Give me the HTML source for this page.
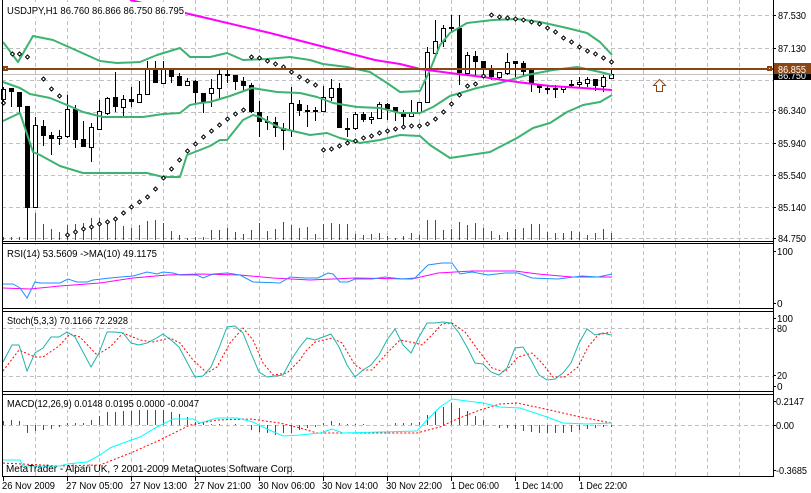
<!DOCTYPE html>
<html><head><meta charset="utf-8"><style>
html,body{margin:0;padding:0;background:#fff;width:811px;height:493px;overflow:hidden}
svg{display:block}
text{font-family:"Liberation Sans",Arial,sans-serif;font-size:10px;fill:#000}
</style></head><body>
<svg width="811" height="493" viewBox="0 0 811 493" xmlns="http://www.w3.org/2000/svg">
<defs>
<path id="v" d="M0.5 0V241M0.5 244V308M0.5 312V391M0.5 395V476"/>
</defs>
<rect width="811" height="493" fill="#fff"/>
<!-- vertical grid -->
<g stroke="#c0c0c0" stroke-dasharray="4,3" fill="none" shape-rendering="crispEdges">
<use href="#v" x="35"/><use href="#v" x="67"/><use href="#v" x="99"/><use href="#v" x="131"/><use href="#v" x="163"/><use href="#v" x="195"/><use href="#v" x="227"/><use href="#v" x="259"/><use href="#v" x="291"/><use href="#v" x="323"/><use href="#v" x="355"/><use href="#v" x="387"/><use href="#v" x="419"/><use href="#v" x="451"/><use href="#v" x="483"/><use href="#v" x="515"/><use href="#v" x="547"/><use href="#v" x="579"/><use href="#v" x="611"/><use href="#v" x="643"/><use href="#v" x="675"/><use href="#v" x="707"/><use href="#v" x="739"/>
<path d="M2 15.5H773M2 48.5H773M2 80.5H773M2 112.5H773M2 143.5H773M2 175.5H773M2 207.5H773M2 238.5H773M2 328.5H773M2 376.5H773M2 425.5H773"/>
</g>
<!-- volumes -->
<path stroke="#008000" fill="none" shape-rendering="crispEdges" d="M3.5 237V240M11.5 237V240M19.5 237V240M27.5 233V240M35.5 213V240M43.5 224V240M51.5 229V240M59.5 232V240M67.5 225V240M75.5 224V240M83.5 223V240M91.5 218V240M99.5 218V240M107.5 220V240M115.5 219V240M123.5 226V240M131.5 228V240M139.5 225V240M147.5 221V240M155.5 220V240M163.5 223V240M171.5 231V240M179.5 235V240M187.5 238V240M195.5 237V240M203.5 237V240M211.5 230V240M219.5 230V240M227.5 228V240M235.5 232V240M243.5 234V240M251.5 230V240M259.5 223V240M267.5 231V240M275.5 229V240M283.5 222V240M291.5 225V240M299.5 228V240M307.5 227V240M315.5 234V240M323.5 224V240M331.5 223V240M339.5 224V240M347.5 224V240M355.5 234V240M363.5 235V240M371.5 234V240M379.5 233V240M387.5 236V240M395.5 238V240M403.5 236V240M411.5 233V240M419.5 235V240M427.5 220V240M435.5 220V240M443.5 230V240M451.5 229V240M459.5 222V240M467.5 225V240M475.5 223V240M483.5 228V240M491.5 231V240M499.5 235V240M507.5 232V240M515.5 229V240M523.5 228V240M531.5 224V240M539.5 224V240M547.5 232V240M555.5 233V240M563.5 233V240M571.5 231V240M579.5 232V240M587.5 235V240M595.5 233V240M603.5 229V240M611.5 233V240"/>
<!-- gray bid line -->
<rect x="2" y="74" width="771" height="1" fill="#c0c0c0"/>
<!-- candles: wicks -->
<path stroke="#000" fill="none" shape-rendering="crispEdges" d="M3.5 87V105M11.5 88V107M19.5 92V114M27.5 106V240M35.5 117V207M43.5 120V146M51.5 132V155M59.5 130V145M67.5 95V138M75.5 105V148M83.5 121V147M91.5 123V162M99.5 100V130M107.5 97V115M115.5 72V112M123.5 95V117M131.5 87V107M139.5 81V103M147.5 61V94M155.5 61V83M163.5 61V83M171.5 68V83M179.5 73V86M187.5 78V85M195.5 80V103M203.5 93V113M211.5 79V107M219.5 70V100M227.5 70V83M235.5 75V90M243.5 77V90M251.5 83V113M259.5 101V137M267.5 116V130M275.5 117V137M283.5 123V150M291.5 87V137M299.5 100V116M307.5 105V127M315.5 107V121M323.5 86V112M331.5 79V101M339.5 83V128M347.5 118V137M355.5 112V130M363.5 112V122M371.5 112V124M379.5 102V119M387.5 103V120M395.5 107V121M403.5 110V127M411.5 100V116M419.5 102V112M427.5 47V102M435.5 20V53M443.5 25V47M451.5 15V33M459.5 15V85M467.5 52V75M475.5 51V75M483.5 61V77M491.5 65V80M499.5 72V80M507.5 53V75M515.5 61V77M523.5 61V75M531.5 69V92M539.5 84V93M547.5 85V94M555.5 85V98M563.5 86V93M571.5 80V88M579.5 77V88M587.5 77V87M595.5 79V91M603.5 75V92M611.5 68V78"/>
<!-- black bodies -->
<path fill="#000" shape-rendering="crispEdges" d="M9 88h5v4h-5zM17 92h5v15h-5zM25 106h5v102h-5zM41 126h5v10h-5zM49 135h5v4h-5zM73 109h5v31h-5zM81 139h5v8h-5zM113 97h5v10h-5zM129 99h5v3h-5zM153 68h5v15h-5zM169 68h5v9h-5zM177 76h5v10h-5zM193 81h5v12h-5zM201 93h5v9h-5zM225 74h5v2h-5zM233 75h5v7h-5zM241 81h5v5h-5zM249 85h5v27h-5zM257 112h5v10h-5zM265 121h5v2h-5zM273 122h5v6h-5zM281 128h5v3h-5zM297 104h5v7h-5zM305 110h5v2h-5zM313 110h5v2h-5zM337 88h5v40h-5zM345 128h5v2h-5zM361 114h5v6h-5zM385 104h5v5h-5zM393 107h5v5h-5zM401 112h5v5h-5zM449 27h5v2h-5zM457 28h5v45h-5zM473 56h5v6h-5zM481 61h5v7h-5zM489 68h5v9h-5zM513 61h5v3h-5zM521 63h5v9h-5zM529 69h5v15h-5zM537 84h5v4h-5zM545 88h5v2h-5zM553 88h5v2h-5zM569 84h5v2h-5zM593 79h5v7h-5z"/>
<!-- white bodies -->
<path fill="#fff" stroke="#000" shape-rendering="crispEdges" d="M1.5 89.5h4v10h-4zM33.5 125.5h4v82h-4zM57.5 136.5h4v2h-4zM65.5 109.5h4v27h-4zM89.5 127.5h4v20h-4zM97.5 111.5h4v18h-4zM105.5 98.5h4v15h-4zM121.5 99.5h4v8h-4zM137.5 94.5h4v8h-4zM145.5 68.5h4v26h-4zM161.5 68.5h4v15h-4zM185.5 81.5h4v4h-4zM209.5 88.5h4v5h-4zM217.5 74.5h4v14h-4zM289.5 103.5h4v27h-4zM321.5 97.5h4v14h-4zM329.5 88.5h4v9h-4zM353.5 114.5h4v14h-4zM369.5 117.5h4v2h-4zM377.5 104.5h4v14h-4zM409.5 112.5h4v4h-4zM417.5 102.5h4v10h-4zM425.5 52.5h4v50h-4zM433.5 41.5h4v12h-4zM441.5 28.5h4v13h-4zM465.5 55.5h4v18h-4zM497.5 72.5h4v5h-4zM505.5 62.5h4v11h-4zM561.5 86.5h4v3h-4zM577.5 82.5h4v2h-4zM585.5 79.5h4v4h-4zM601.5 77.5h4v9h-4zM609.5 74.5h4v4h-4z"/>
<!-- Bollinger bands -->
<g fill="none" stroke="#3cb371" stroke-width="2" stroke-linejoin="round">
<polyline points="3,42 18,62 33,36 53,40 80,52 100,61 117,63 140,62 157,55 180,48 190,57 210,57 227,53 243,60 267,59 290,57 310,60 323,64 347,67 370,72 387,83 400,92 420,91 430,70 440,45 450,33 467,23 493,20 517,19 540,22 567,28 587,33 600,42 612,55"/>
<polyline points="3,82 20,88 30,94 50,98 67,105 83,112 103,117 143,117 163,114 180,113 190,105 200,103 210,102 230,96 252,88 277,92 300,93 317,97 333,103 357,107 380,108 400,113 420,113 433,107 450,96 477,88 500,83 527,75 553,70 577,67 600,72 612,75"/>
<polyline points="3,121 20,113 33,152 40,155 60,166 83,173 127,173 147,173 163,177 180,177 187,155 200,150 210,146 220,140 227,140 243,120 253,115 260,117 280,128 310,135 327,133 340,138 360,143 380,140 400,135 420,136 430,145 450,158 490,152 517,138 533,128 550,123 567,112 583,105 600,102 612,95"/>
</g>
<!-- magenta MA -->
<polyline fill="none" stroke="#ff00ff" stroke-width="2" points="130,0 185,13 270,33 375,60 400,64 420,69 450,73 483,77 517,82 550,86 583,88 612,90"/>
<!-- Parabolic SAR -->
<path fill="#fff" stroke="#000" stroke-width="1" d="M3.5 101l2 2-2 2-2-2zM12.5 52l2 2-2 2-2-2zM19.5 52l2 2-2 2-2-2zM27.5 55l2 2-2 2-2-2zM43.5 77l2 2-2 2-2-2zM51.5 87l2 2-2 2-2-2zM59.5 94l2 2-2 2-2-2zM67.5 233l2 2-2 2-2-2zM75.5 230l2 2-2 2-2-2zM83.5 227l2 2-2 2-2-2zM91.5 225l2 2-2 2-2-2zM99.5 222l2 2-2 2-2-2zM107.5 220l2 2-2 2-2-2zM115.5 217l2 2-2 2-2-2zM123.5 211l2 2-2 2-2-2zM131.5 205l2 2-2 2-2-2zM139.5 200l2 2-2 2-2-2zM147.5 195l2 2-2 2-2-2zM155.5 187l2 2-2 2-2-2zM163.5 176l2 2-2 2-2-2zM171.5 167l2 2-2 2-2-2zM179.5 158l2 2-2 2-2-2zM187.5 149l2 2-2 2-2-2zM195.5 142l2 2-2 2-2-2zM203.5 135l2 2-2 2-2-2zM211.5 129l2 2-2 2-2-2zM219.5 123l2 2-2 2-2-2zM227.5 117l2 2-2 2-2-2zM235.5 112l2 2-2 2-2-2zM243.5 108l2 2-2 2-2-2zM251.5 55l2 2-2 2-2-2zM259.5 56l2 2-2 2-2-2zM267.5 59l2 2-2 2-2-2zM275.5 62l2 2-2 2-2-2zM283.5 65l2 2-2 2-2-2zM291.5 70l2 2-2 2-2-2zM299.5 75l2 2-2 2-2-2zM307.5 79l2 2-2 2-2-2zM315.5 83l2 2-2 2-2-2zM323.5 148l2 2-2 2-2-2zM331.5 147l2 2-2 2-2-2zM339.5 144l2 2-2 2-2-2zM347.5 141l2 2-2 2-2-2zM355.5 139l2 2-2 2-2-2zM363.5 136l2 2-2 2-2-2zM371.5 134l2 2-2 2-2-2zM379.5 131l2 2-2 2-2-2zM387.5 129l2 2-2 2-2-2zM395.5 127l2 2-2 2-2-2zM403.5 125l2 2-2 2-2-2zM411.5 124l2 2-2 2-2-2zM419.5 124l2 2-2 2-2-2zM427.5 122l2 2-2 2-2-2zM435.5 117l2 2-2 2-2-2zM443.5 110l2 2-2 2-2-2zM451.5 102l2 2-2 2-2-2zM459.5 93l2 2-2 2-2-2zM467.5 84l2 2-2 2-2-2zM475.5 82l2 2-2 2-2-2zM483.5 74l2 2-2 2-2-2zM491.5 13l2 2-2 2-2-2zM499.5 15l2 2-2 2-2-2zM507.5 16l2 2-2 2-2-2zM515.5 17l2 2-2 2-2-2zM523.5 18l2 2-2 2-2-2zM531.5 20l2 2-2 2-2-2zM539.5 22l2 2-2 2-2-2zM547.5 26l2 2-2 2-2-2zM555.5 30l2 2-2 2-2-2zM563.5 36l2 2-2 2-2-2zM571.5 40l2 2-2 2-2-2zM579.5 45l2 2-2 2-2-2zM587.5 49l2 2-2 2-2-2zM595.5 52l2 2-2 2-2-2zM603.5 56l2 2-2 2-2-2zM611.5 60l2 2-2 2-2-2z"/>
<!-- brown horizontal line -->
<rect x="2" y="68" width="771" height="2" fill="#8b4513"/>
<rect x="3" y="66" width="5" height="5" fill="#8b4513"/><rect x="5" y="68" width="1" height="1" fill="#fff"/>
<rect x="767" y="66" width="5" height="5" fill="#8b4513"/><rect x="769" y="68" width="1" height="1" fill="#fff"/>
<!-- arrow -->
<path d="M659.5 79.5L665.5 85.5H662.5V91.5H656.5V85.5H653.5Z" fill="#fff" stroke="#8b4513"/>
<!-- title -->
<rect x="3" y="2" width="182" height="15" fill="#fff"/>
<text x="7" y="14" textLength="177" lengthAdjust="spacingAndGlyphs">USDJPY,H1  86.760 86.866 86.750 86.795</text>

<!-- RSI -->
<polyline fill="none" stroke="#ff00ff" points="3,288 30,289 60,286 100,283 133,278 167,275 200,274 240,275 273,278 310,280 355,278 412,279 438,273 472,271 515,271 538,274 572,277 612,277"/>
<polyline fill="none" stroke="#1e90ff" points="3,284 13,284 20,288 27,298 35,282 40,283 60,283 68,279 77,282 87,282 93,280 110,278 133,276 147,272 157,274 163,272 173,273 180,275 197,275 203,278 213,274 227,273 240,275 253,282 280,283 290,277 305,278 318,278 328,273 333,274 340,282 348,282 355,279 372,279 385,277 402,279 415,278 428,265 442,263 452,263 460,274 472,272 488,275 505,273 518,273 532,278 558,279 582,276 598,277 612,274"/>
<rect x="3" y="245" width="156" height="14" fill="#fff"/>
<text x="7" y="257" textLength="150" lengthAdjust="spacingAndGlyphs">RSI(14) 53.5609  -&gt;MA(10) 49.1175</text>

<!-- Stochastic -->
<polyline fill="none" stroke="#ff0000" stroke-dasharray="2,2" points="3,371 19,350 35,357 43,357 59,346 70,334 80,337 97,355 110,347 123,333 140,340 153,342 170,338 180,343 193,360 207,373 217,367 230,343 243,328 253,340 263,363 273,375 287,373 300,360 305,352 315,342 332,338 342,343 355,365 363,370 372,370 388,352 400,340 415,343 422,345 432,335 442,324 452,323 465,332 478,350 492,368 505,372 518,357 532,353 542,363 553,377 565,377 578,367 588,347 598,335 611,332"/>
<polyline fill="none" stroke="#20b2aa" points="3,362 12,345 19,345 27,371 35,353 43,348 51,337 59,337 67,332 75,337 83,352 91,367 99,353 107,332 115,332 123,333 131,343 139,345 147,343 155,339 163,334 171,340 179,347 187,362 195,377 203,376 211,367 219,348 227,327 235,326 243,333 251,353 259,372 267,377 275,376 283,375 291,360 299,348 307,338 315,340 323,337 331,334 339,347 347,365 355,377 363,370 371,365 379,355 387,340 395,329 403,345 411,353 419,337 427,323 435,323 443,322 451,323 459,333 467,347 475,363 483,364 491,372 499,375 507,368 515,348 523,347 531,360 539,375 547,380 555,379 563,373 571,363 579,343 587,329 595,335 603,333 611,335"/>
<rect x="3" y="313" width="127" height="14" fill="#fff"/>
<text x="7" y="324" textLength="121" lengthAdjust="spacingAndGlyphs">Stoch(5,3,3) 70.1166 72.2928</text>

<!-- MACD histogram -->
<path stroke="#008000" fill="none" shape-rendering="crispEdges" d="M3.5 421V425M11.5 420V425M19.5 421V425M67.5 423V425M75.5 423V425M83.5 423V425M91.5 420V425M99.5 416V425M107.5 412V425M115.5 412V425M123.5 411V425M131.5 411V425M139.5 409V425M147.5 408V425M155.5 408V425M163.5 409V425M171.5 412V425M179.5 414V425M187.5 417V425M195.5 422V425M203.5 423V425M211.5 424V425M219.5 424V425M235.5 424V425M323.5 423V425M331.5 421V425M339.5 423V425M347.5 424V425M355.5 424V425M363.5 424V425M395.5 423V425M403.5 423V425M411.5 423V425M419.5 422V425M427.5 415V425M435.5 411V425M443.5 407V425M451.5 403V425M459.5 408V425M467.5 411V425M475.5 416V425M483.5 420V425"/>
<path stroke="#ff0000" fill="none" shape-rendering="crispEdges" d="M27.5 425V433M35.5 425V431M43.5 425V430M51.5 425V429M59.5 425V427M251.5 425V430M259.5 425V432M267.5 425V433M275.5 425V435M283.5 425V433M291.5 425V433M299.5 425V430M307.5 425V428M315.5 425V427M499.5 425V428M507.5 425V428M515.5 425V429M523.5 425V431M531.5 425V432M539.5 425V433M547.5 425V433M555.5 425V433M563.5 425V433M571.5 425V432M579.5 425V430M587.5 425V429M595.5 425V428M603.5 425V427M611.5 425V427"/>
<polyline fill="none" stroke="#ff0000" stroke-dasharray="2,2" points="3,463 60,466 100,465 133,452 160,440 190,425 217,420 250,419 280,423 300,428 317,433 350,433 417,433 440,427 457,419 480,410 500,404 517,403 550,410 580,417 612,423"/>
<polyline fill="none" stroke="#00ffff" points="3,460 20,460 23,466 60,466 67,464 87,462 100,455 110,448 123,443 140,437 157,427 173,419 193,419 200,423 217,418 237,418 253,422 267,429 283,436 300,435 320,433 332,429 343,433 380,432 417,431 427,420 440,407 452,399 467,401 483,403 500,407 520,408 547,417 563,423 587,424 612,423"/>
<rect x="3" y="396" width="198" height="14" fill="#fff"/>
<text x="7" y="407" textLength="192" lengthAdjust="spacingAndGlyphs">MACD(12,26,9) 0.0148 0.0195 0.0000 -0.0047</text>
<text x="6" y="472" textLength="289" lengthAdjust="spacingAndGlyphs">MetaTrader - Alpari UK, ? 2001-2009 MetaQuotes Software Corp.</text>

<!-- panel frames -->
<path stroke="#000" fill="none" shape-rendering="crispEdges" d="M2.5 0V476.5M773.5 0V477M2 241.5H774M2 243.5H774M2 308.5H774M2 311.5H774M2 391.5H774M2 394.5H774M2 476.5H774"/>
<!-- right axis ticks -->
<path stroke="#000" fill="none" shape-rendering="crispEdges" d="M773 15.5h3M773 48.5h3M773 110.5h3M773 143.5h3M773 175.5h3M773 207.5h3M773 238.5h3M773 251.5h3M773 303.5h3M773 318.5h3M773 328.5h3M773 375.5h3M773 386.5h3M773 401.5h3M773 425.5h3M773 470.5h3"/>
<!-- price labels -->
<text x="778" y="19" textLength="28" lengthAdjust="spacingAndGlyphs">87.530</text>
<text x="778" y="52" textLength="28" lengthAdjust="spacingAndGlyphs">87.130</text>
<text x="778" y="114" textLength="28" lengthAdjust="spacingAndGlyphs">86.340</text>
<text x="778" y="147" textLength="28" lengthAdjust="spacingAndGlyphs">85.940</text>
<text x="778" y="179" textLength="28" lengthAdjust="spacingAndGlyphs">85.540</text>
<text x="778" y="211" textLength="28" lengthAdjust="spacingAndGlyphs">85.140</text>
<text x="778" y="242" textLength="28" lengthAdjust="spacingAndGlyphs">84.750</text>
<rect x="774" y="68" width="37" height="12" fill="#000"/>
<text x="778" y="79" textLength="28" lengthAdjust="spacingAndGlyphs" style="fill:#fff">86.750</text>
<rect x="774" y="63" width="37" height="11" fill="#8b4513"/>
<text x="778" y="73" textLength="28" lengthAdjust="spacingAndGlyphs" style="fill:#fff">86.855</text>
<text x="777" y="255" textLength="16" lengthAdjust="spacingAndGlyphs">100</text>
<text x="777" y="307">0</text>
<text x="777" y="322" textLength="16" lengthAdjust="spacingAndGlyphs">100</text>
<text x="777" y="332" textLength="10" lengthAdjust="spacingAndGlyphs">80</text>
<text x="777" y="379" textLength="10" lengthAdjust="spacingAndGlyphs">20</text>
<text x="777" y="390">0</text>
<text x="776" y="405" textLength="28" lengthAdjust="spacingAndGlyphs">0.2147</text>
<text x="776" y="429" textLength="18" lengthAdjust="spacingAndGlyphs">0.00</text>
<text x="776" y="474" textLength="31" lengthAdjust="spacingAndGlyphs">-0.3685</text>
<!-- time axis -->
<path stroke="#000" fill="none" shape-rendering="crispEdges" d="M3.5 477V481M67.5 477V481M131.5 477V481M195.5 477V481M259.5 477V481M323.5 477V481M387.5 477V481M451.5 477V481M515.5 477V481M579.5 477V481"/>
<text x="2" y="489" textLength="53" lengthAdjust="spacingAndGlyphs">26 Nov 2009</text>
<text x="66" y="489" textLength="57" lengthAdjust="spacingAndGlyphs">27 Nov 05:00</text>
<text x="130" y="489" textLength="57" lengthAdjust="spacingAndGlyphs">27 Nov 13:00</text>
<text x="194" y="489" textLength="57" lengthAdjust="spacingAndGlyphs">27 Nov 21:00</text>
<text x="258" y="489" textLength="57" lengthAdjust="spacingAndGlyphs">30 Nov 06:00</text>
<text x="322" y="489" textLength="56" lengthAdjust="spacingAndGlyphs">30 Nov 14:00</text>
<text x="386" y="489" textLength="56" lengthAdjust="spacingAndGlyphs">30 Nov 22:00</text>
<text x="451" y="489" textLength="48" lengthAdjust="spacingAndGlyphs">1 Dec 06:00</text>
<text x="515" y="489" textLength="48" lengthAdjust="spacingAndGlyphs">1 Dec 14:00</text>
<text x="579" y="489" textLength="48" lengthAdjust="spacingAndGlyphs">1 Dec 22:00</text>
</svg>
</body></html>
